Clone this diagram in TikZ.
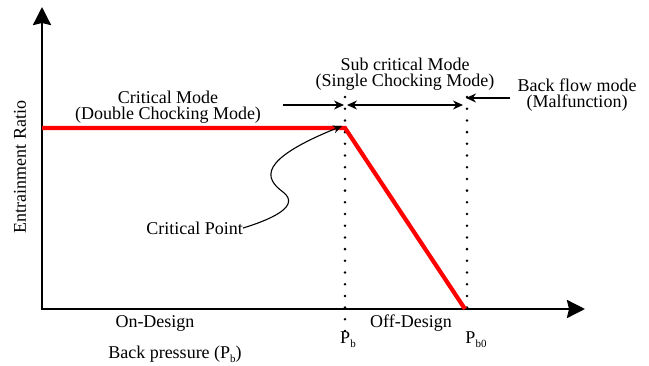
\documentclass[tikz,border=0pt]{standalone}
\usepackage{fontspec}
\setmainfont{Liberation Serif}
\usetikzlibrary{arrows.meta}

\newcommand\lowsub[1]{\raisebox{-0.5ex}{\fontsize{11}{11}\selectfont #1}}

\tikzset{
	axis/.style={line width=2.6pt,-{Stealth[length=18pt,width=18pt,inset=2pt]}},
	ratio/.style={red,line width=4.2pt},
	guide/.style={line width=2.8pt,dash pattern=on 0pt off 11.7pt,line cap=round},
	modearrow/.style={line width=1.2pt,-{Stealth[length=10pt,width=9pt]}},
	lbl/.style={font=\fontsize{18}{16}\selectfont,align=center,inner sep=0pt}
}

\begin{document}
\begin{tikzpicture}[x=1pt,y=-1pt]
	\useasboundingbox[fill=white] (0,0) rectangle (649,365);

	\coordinate (O) at (42,309);
	\coordinate (ytop) at (42,7);
	\coordinate (xend) at (585,309);
	\coordinate (start) at (42,128);
	\coordinate (cp) at (345,128);
	\coordinate (pbend) at (465,309);

	\coordinate (pbtop) at (345,97);
	\coordinate (pbbot) at (345,332);
	\coordinate (pbotop) at (467,97);
	\coordinate (pbobot) at (467,316);

	\coordinate (subtail) at (283,105);
	\coordinate (subleft) at (344,105);
	\coordinate (subright) at (347,105);
	\coordinate (subend) at (463,105);
	\coordinate (backtail) at (510,98);
	\coordinate (backtip) at (466,98);

	\draw[guide] (pbtop) -- (pbbot);
	\draw[guide] (pbotop) -- (pbobot);

	\draw[axis] (O) -- (ytop);
	\draw[axis] ([xshift=-1.3pt]O) -- (xend);
	\draw[ratio,line join=miter] (start) -- (cp) -- (pbend);

	\draw[modearrow] (subtail) -- (subleft);
	\draw[line width=1.2pt,{Stealth[length=10pt,width=9pt]}-{Stealth[length=10pt,width=9pt]}] (subright) -- (subend);
	\draw[modearrow] (backtail) -- (backtip);

	\node[lbl,rotate=90] (yname) at (20,167) {Entrainment Ratio};
	\node[lbl] (critmode) at (168,107) {Critical Mode\\(Double Chocking Mode)};
	\node[lbl] (submode) at (405,74) {Sub critical Mode\\(Single Chocking Mode)};
	\node[lbl] (backmode) at (577,95) {Back flow mode\\(Malfunction)};
	\node[lbl,anchor=east] (critpt) at (243,228) {Critical Point};
	\node[lbl] (ondes) at (155,323) {On-Design};
	\node[lbl] (offdes) at (411,323) {Off-Design};
	\node[lbl] (pb) at (348,340) {P\lowsub{b}};
	\node[lbl] (pbo) at (476,340) {P\lowsub{b0}};
	\node[lbl] (backp) at (175,354) {Back pressure (P\lowsub{b})};

	\draw[line width=1.1pt,-{Stealth[length=9pt,width=8pt]}] (critpt.east) .. controls (276,218) and (300,205) .. (283,192) .. controls (264,178) and (258,160) .. ([xshift=-3pt,yshift=2pt]cp);
\end{tikzpicture}
\end{document}
